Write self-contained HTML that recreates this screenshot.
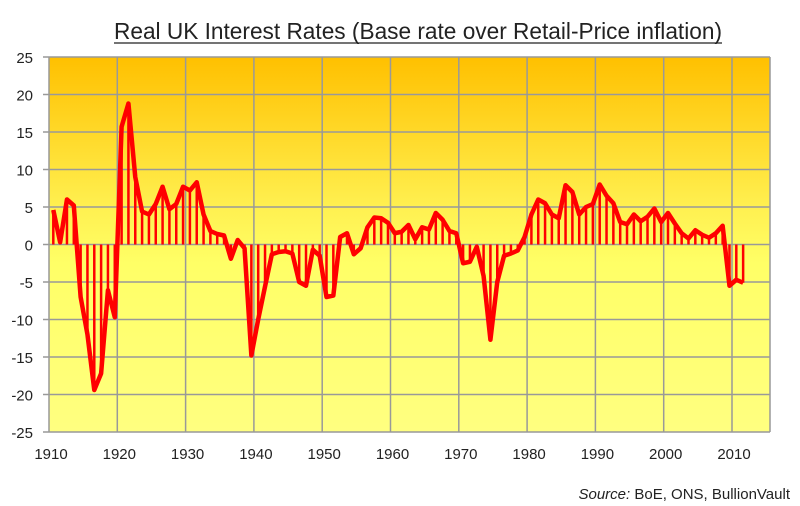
<!DOCTYPE html>
<html><head><meta charset="utf-8"><style>
html,body{margin:0;padding:0;background:#fff;}
svg{display:block;font-family:"Liberation Sans",Arial,sans-serif;}
</style></head><body>
<svg id="chart" width="800" height="506" viewBox="0 0 800 506" xmlns="http://www.w3.org/2000/svg">
<defs>
<linearGradient id="bg" x1="0" y1="0" x2="0" y2="1">
<stop offset="0" stop-color="#FFC000"/>
<stop offset="0.4" stop-color="#FFF050"/>
<stop offset="0.55" stop-color="#FFFF66"/>
<stop offset="1" stop-color="#FFFF80"/>
</linearGradient>
</defs>
<text x="418" y="39" text-anchor="middle" font-size="23" textLength="608" lengthAdjust="spacingAndGlyphs" fill="#222">Real UK Interest  Rates (Base rate over Retail-Price inflation)</text>
<line x1="114" y1="43" x2="722" y2="43" stroke="#222" stroke-width="1.2"/>
<rect x="49" y="57" width="721" height="375" fill="url(#bg)"/>
<g id="grid"></g>
<g id="stems"></g>
<g id="series"></g>
<g id="axes"></g>
<text x="790" y="499" text-anchor="end" font-size="15" fill="#222"><tspan font-style="italic">Source:</tspan> BoE, ONS,  BullionVault</text>
</svg>
<script>
const years = [];
for (let y = 1910; y <= 2011; y++) years.push(y);
const realRates = [4.6,0.3,6.0,5.2,-7,-12,-19.4,-17.2,-6.1,-9.7,
15.7,18.8,9,4.4,4,5.4,7.7,4.7,5.4,7.7,
7.2,8.3,4,1.8,1.4,1.2,-1.9,0.6,-0.5,-14.8,
-10,-5.6,-1.3,-1,-0.9,-1.2,-5,-5.5,-0.7,-1.5,
-7,-6.8,1,1.5,-1.3,-0.5,2.3,3.6,3.5,2.9,
1.5,1.7,2.6,0.7,2.3,2,4.2,3.3,1.8,1.5,
-2.5,-2.3,-0.3,-4.2,-12.7,-5,-1.5,-1.2,-0.8,1.0,
4,6,5.5,4,3.5,7.9,7,4,5,5.4,
8,6.5,5.5,3,2.7,4,3.1,3.7,4.8,3,
4.2,2.8,1.5,0.8,1.9,1.3,0.9,1.5,2.5,-5.5,
-4.7,-5.1];
const yTicks = [25,20,15,10,5,0,-5,-10,-15,-20,-25];
const xTicks = [1910,1920,1930,1940,1950,1960,1970,1980,1990,2000,2010];

const NS = "http://www.w3.org/2000/svg";
const X0 = 49, PX_PER_YEAR = 6.83, Y0 = 244.5, PX_PER_UNIT = 7.5;
function xs(yr){ return X0 + (yr - 1910) * PX_PER_YEAR; }
function ys(v){ return Y0 - v * PX_PER_UNIT; }
function mk(tag, attrs, parent){ const e = document.createElementNS(NS, tag); for (const k in attrs) e.setAttribute(k, attrs[k]); parent.appendChild(e); return e; }

const grid = document.getElementById('grid');
const axes = document.getElementById('axes');
yTicks.forEach(t => {
  const g = mk('line', {x1: 43, x2: 770, y1: ys(t), y2: ys(t), stroke: '#999', 'stroke-width': 1.5}, grid);
  
  
  const l = mk('text', {x: 33, y: ys(t) + 6, 'text-anchor': 'end', 'font-size': 15, fill: '#222'}, axes);
  l.textContent = t;
  
  
});
xTicks.forEach(t => {
  const g = mk('line', {x1: xs(t), x2: xs(t), y1: 57, y2: 432, stroke: '#999', 'stroke-width': 1.5}, grid);
  
  
  const l = mk('text', {x: xs(t) + 2, y: 459, 'text-anchor': 'middle', 'font-size': 15, fill: '#222'}, axes);
  l.textContent = t;
  
  
});
const rb = mk('line', {x1: 770, x2: 770, y1: 57, y2: 432, stroke: '#999', 'stroke-width': 1.5}, grid);



const stems = document.getElementById('stems');
const series = document.getElementById('series');
let d = '';
years.forEach((yr, i) => {
  const x = xs(yr + 0.63), y = ys(realRates[i]);
  const s = mk('line', {x1: x, x2: x, y1: ys(0), y2: y, stroke: '#FF0000', 'stroke-width': 2.5}, stems);
  
  
  d += (i ? 'L' : 'M') + x.toFixed(2) + ',' + y.toFixed(2);
});
const path = mk('path', {d: d, fill: 'none', stroke: '#FF0000', 'stroke-width': 4.5, 'stroke-linejoin': 'round'}, series);


</script>
</body></html>
